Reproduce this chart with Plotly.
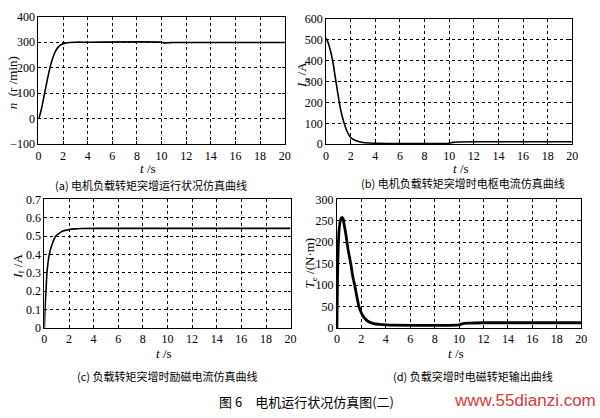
import plotly.graph_objects as go

W, H = 600, 418

# ---- data ----
t_a = [0, 0.1, 0.25, 0.5, 0.75, 1.0, 1.25, 1.5, 1.75, 2.0, 2.25, 2.5, 3.0, 4.0, 10.0, 10.2, 10.6, 11.0, 20.0]
n_a = [0, 12, 40, 100, 160, 212, 250, 274, 287, 294, 297, 299, 300, 300, 300, 297, 298, 299, 299]

t_b = [0, 0.1, 0.3, 0.53, 0.8, 1.07, 1.3, 1.47, 1.7, 2.0, 2.5, 3.0, 3.5, 4.0, 10.0, 10.3, 10.8, 12.0, 20.0]
ia_b = [505, 495, 460, 400, 300, 200, 135, 100, 62, 32, 15, 8, 6, 5, 5, 9, 11, 12, 12]

t_c = [0, 0.05, 0.13, 0.21, 0.4, 0.6, 0.93, 1.2, 1.5, 2.0, 2.5, 3.0, 4.0, 20.0]
if_c = [0, 0.1, 0.2, 0.3, 0.4, 0.45, 0.5, 0.515, 0.527, 0.535, 0.539, 0.541, 0.542, 0.542]

t_d = [0, 0.05, 0.12, 0.2, 0.3, 0.4, 0.5, 0.6, 0.75, 0.9, 1.13, 1.3, 1.45, 1.6, 1.8, 2.0, 2.2, 2.5, 3.0, 3.5, 4.0, 10.0, 10.3, 10.8, 12.0, 20.0]
te_d = [0, 120, 200, 235, 252, 258, 255, 240, 215, 185, 150, 120, 100, 78, 50, 35, 25, 16, 10, 8, 7, 7, 10, 11, 12, 12]

x_ticks = list(range(0, 21, 2))
y_ticks_a = [-100, 0, 100, 200, 300, 400]
y_ticks_b = [0, 100, 200, 300, 400, 500, 600]
y_ticks_c = [0, 0.1, 0.2, 0.3, 0.4, 0.5, 0.6, 0.7]
y_ticks_c_text = ["0", "0.1", "0.2", "0.3", "0.4", "0.5", "0.6", "0.7"]
y_ticks_d = [0, 50, 100, 150, 200, 250, 300]

captions = ["(a) 电机负载转矩突增运行状况仿真曲线",
            "(b) 电机负载转矩突增时电枢电流仿真曲线",
            "(c) 负载转矩突增时励磁电流仿真曲线",
            "(d) 负载突增时电磁转矩输出曲线"]
main_caption = "图 6　电机运行状况仿真图(二)"
watermark = "www.55dianzi.com"

# ---- layout helpers ----
def dx(px):
    return px / W

def dy(py):
    return 1 - py / H

boxes = {  # left, right, top, bottom in pixels
    1: (36, 286, 10, 142),
    2: (328, 578, 12, 142),
    3: (42, 292, 199, 332),
    4: (339, 587, 199, 332),
}

fig = go.Figure()
series = [(t_a, n_a, 1.6), (t_b, ia_b, 1.6), (t_c, if_c, 1.6), (t_d, te_d, 2.8)]
for i, (x, y, w) in enumerate(series, start=1):
    fig.add_trace(go.Scatter(x=x, y=y, mode="lines", line=dict(color="black", width=w, shape="spline", smoothing=0.6),
                             xaxis="x" if i == 1 else f"x{i}", yaxis="y" if i == 1 else f"y{i}", showlegend=False))

tickfont = dict(family="Liberation Serif, Times New Roman, serif", size=12, color="black")
yranges = {1: [-100, 400], 2: [0, 600], 3: [0, 0.7], 4: [0, 300]}
yticks = {1: (y_ticks_a, None), 2: (y_ticks_b, None), 3: (y_ticks_c, y_ticks_c_text), 4: (y_ticks_d, None)}

layout = dict(width=W, height=H, margin=dict(l=0, r=0, t=0, b=0),
              plot_bgcolor="white", paper_bgcolor="white", showlegend=False)
for i in range(1, 5):
    l, r, t, b = boxes[i]
    xs = "xaxis" if i == 1 else f"xaxis{i}"
    ys = "yaxis" if i == 1 else f"yaxis{i}"
    anchor_x = "y" if i == 1 else f"y{i}"
    anchor_y = "x" if i == 1 else f"x{i}"
    common = dict(showline=True, mirror="ticks", linecolor="black", linewidth=1,
                  ticks="inside", ticklen=3, tickcolor="black", tickfont=tickfont,
                  showgrid=True, gridcolor="black", gridwidth=1, griddash="dot", zeroline=False)
    layout[xs] = dict(domain=[dx(l), dx(r)], anchor=anchor_x, range=[0, 20],
                      tickvals=x_ticks, **common)
    tv, tt = yticks[i]
    yd = dict(domain=[dy(b), dy(t)], anchor=anchor_y, range=yranges[i], tickvals=tv, **common)
    if tt:
        yd["ticktext"] = tt
    layout[ys] = yd

fig.update_layout(**layout)

serif = "Liberation Serif, Times New Roman, serif"
cjk = "Noto Sans CJK SC"
anns = []

def ann(text, xp, yp, font, angle=0):
    anns.append(dict(x=dx(xp), y=dy(yp), xref="paper", yref="paper", showarrow=False,
                     xanchor="center", yanchor="middle", textangle=angle, text=text, font=font))

# x labels
for (xp, yp) in [(147, 167), (465, 167), (163, 358), (460, 358)]:
    ann("<i>t</i> /s", xp, yp, dict(family=serif, size=13, color="black"))
# y labels
ylabels = [("<i>n</i>  (r /min)", 10, 78), ("<i>I</i><sub>a</sub> /A", 304, 70),
           ("<i>I</i><sub>f</sub> /A", 15, 268), ("<i>T</i><sub>e</sub> /(N·m)", 312, 265)]
for txt, xp, yp in ylabels:
    ann(txt, xp, yp, dict(family=serif, size=13, color="black"), angle=-90)
# captions
for txt, xp, yp in zip(captions, [150, 467, 167, 477], [184, 182, 382, 382]):
    ann(txt, xp, yp, dict(family=cjk, size=11, color="black"))
ann(main_caption, 308, 408, dict(family=cjk, size=13, color="black"))
ann(watermark, 530, 407, dict(family="Liberation Sans, Arial, sans-serif", size=17, color="#d83a3a"))
fig.update_layout(annotations=anns)

fig.write_html("out.html", config={"displayModeBar": False},
               post_script="document.body.style.margin='0';document.body.style.overflow='hidden';")
